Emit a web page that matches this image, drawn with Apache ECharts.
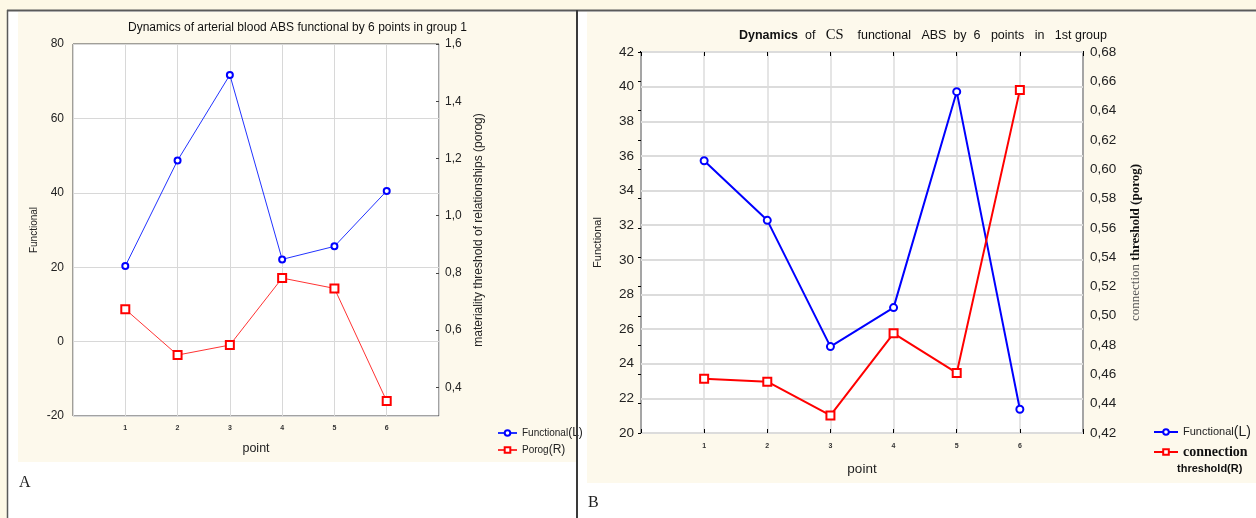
<!DOCTYPE html>
<html><head><meta charset="utf-8">
<script src="https://cdn.jsdelivr.net/npm/echarts@6/dist/echarts.min.js"></script>
<style>html,body{margin:0;padding:0;background:#fff}#c{width:1256px;height:518px}</style>
</head><body><div id="c"></div>
<script>
// ---- data ----
const points = [1, 2, 3, 4, 5, 6];
const leftFunctional = [20.3, 48.7, 71.7, 22.1, 25.6, 40.5];
const leftPorog = [0.673, 0.513, 0.548, 0.782, 0.746, 0.352];
const rightFunctional = [35.72, 32.28, 24.99, 27.24, 39.71, 21.37];
const rightThreshold = [0.457, 0.455, 0.432, 0.488, 0.461, 0.654];
const leftPorogTicks = [0.4, 0.6, 0.8, 1.0, 1.2, 1.4, 1.6];

const SANS = "'Liberation Sans', Arial, sans-serif";
const SERIF = "'Liberation Serif', 'Times New Roman', serif";
const pairs = (vals) => points.map((p, i) => [p, vals[i]]);
const comma = (d) => (v) => v.toFixed(d).replace('.', ',');
const catLabel = (v) => (points.indexOf(v) >= 0 ? String(v) : '');

const chart = echarts.init(document.getElementById('c'), null, {renderer: 'canvas'});
const option = {
  animation: false,
  backgroundColor: '#fdf8e6',
  textStyle: {fontFamily: SANS},
  graphic: [
    {type: 'rect', z: -100, shape: {x: 8, y: 11, width: 1248, height: 507}, style: {fill: '#ffffff'}},
    {type: 'rect', z: -99, shape: {x: 18, y: 12, width: 558, height: 450}, style: {fill: '#fdf9ec'}},
    {type: 'rect', z: -99, shape: {x: 587, y: 12, width: 669, height: 471}, style: {fill: '#fdf9ec'}},
    {type: 'line', z: -98, shape: {x1: 7, y1: 10.5, x2: 1256, y2: 10.5}, style: {stroke: '#5a5a5a', lineWidth: 2}},
    {type: 'line', z: -98, shape: {x1: 7.5, y1: 10, x2: 7.5, y2: 518}, style: {stroke: '#5a5a5a', lineWidth: 1.5}},
    {type: 'line', z: 50, shape: {x1: 577, y1: 10, x2: 577, y2: 518}, style: {stroke: '#3a3a3a', lineWidth: 2}},
    {type: 'text', left: 19, top: 475, style: {text: 'A', font: '16px ' + SERIF, fill: '#222'}},
    {type: 'text', left: 588, top: 495, style: {text: 'B', font: '16px ' + SERIF, fill: '#222'}},
    {type: 'text', left: 1177, top: 463, style: {text: 'threshold(R)', font: 'bold 11px ' + SANS, fill: '#111'}}
  ],
  title: [
    {text: 'Dynamics of arterial blood ABS functional by 6 points in group 1', left: 128, top: 22, padding: 0,
     textStyle: {fontSize: 12, fontWeight: 'normal', color: '#111', fontFamily: SANS}},
    {text: '{b|Dynamics}  of   {s|CS}    functional   ABS  by  6   points   in   1st group', left: 739, top: 28, padding: 0,
     textStyle: {fontSize: 12.5, fontWeight: 'normal', color: '#111', fontFamily: SANS,
       rich: {b: {fontWeight: 'bold', fontSize: 12.5, fontFamily: SANS, color: '#111'},
              s: {fontFamily: SERIF, fontSize: 14.5, color: '#111'}}}}
  ],
  legend: [
    {data: ['Functional(L)', 'Porog(R)'], orient: 'vertical', left: 497, top: 427, padding: 0,
     itemWidth: 19, itemHeight: 7, itemGap: 5,
     textStyle: {fontSize: 10, color: '#222', fontFamily: SANS, rich: {p: {fontSize: 12, color: '#222'}}},
     formatter: (n) => n.replace(/\((.)\)/, '{p|($1)}')},
    {data: ['Functional(L) ', 'connection threshold(R)'], orient: 'vertical', left: 1153, top: 425, padding: 0,
     itemWidth: 24, itemHeight: 7, itemGap: 6,
     textStyle: {fontSize: 11, color: '#222', fontFamily: SANS,
       rich: {p: {fontSize: 14, color: '#222'}, c: {fontSize: 14, fontWeight: 'bold', fontFamily: SERIF, color: '#111'}}},
     formatter: (n) => n.indexOf('connection') === 0 ? '{c|connection}' : n.trim().replace(/\((.)\)/, '{p|($1)}')}
  ],
  grid: [
    {left: 73, top: 44, width: 366, height: 372, show: true, backgroundColor: '#ffffff', borderColor: '#444', borderWidth: 1},
    {left: 641, top: 52, width: 442, height: 381, show: true, backgroundColor: '#ffffff', borderColor: '#000', borderWidth: 2}
  ],
  xAxis: [
    {gridIndex: 0, type: 'value', min: 0, max: 7, interval: 1, position: 'bottom',
     axisLine: {show: false}, axisTick: {show: false},
     axisLabel: {formatter: catLabel, fontSize: 7, fontWeight: 'bold', color: '#333', margin: 9},
     splitLine: {lineStyle: {color: '#d8d8d8', width: 1}},
     name: 'point', nameLocation: 'middle', nameGap: 26, nameTextStyle: {fontSize: 12.5, color: '#222'}},
    {gridIndex: 1, type: 'value', min: 0, max: 7, interval: 1, position: 'bottom',
     axisLine: {show: false}, axisTick: {show: true, inside: true, length: 4, lineStyle: {color: '#000'}},
     axisLabel: {formatter: catLabel, fontSize: 7, fontWeight: 'bold', color: '#333', margin: 10},
     splitLine: {lineStyle: {color: '#dcdcdc', width: 1.5}},
     name: 'point', nameLocation: 'middle', nameGap: 29, nameTextStyle: {fontSize: 13.5, color: '#222'}},
    {gridIndex: 1, type: 'value', min: 0, max: 7, interval: 1, position: 'top',
     axisLine: {show: false}, axisTick: {show: true, inside: true, length: 4, lineStyle: {color: '#000'}},
     axisLabel: {show: false}, splitLine: {show: false}}
  ],
  yAxis: [
    {gridIndex: 0, type: 'value', min: -20, max: 80, interval: 20, position: 'left',
     axisLine: {show: false}, axisTick: {show: false},
     axisLabel: {fontSize: 12, color: '#222', margin: 9},
     splitLine: {lineStyle: {color: '#d8d8d8', width: 1}},
     name: 'Functional', nameLocation: 'middle', nameGap: 34, nameTextStyle: {fontSize: 10, color: '#222'}},
    {gridIndex: 0, type: 'value', min: 0.3, max: 1.6, position: 'right',
     axisLine: {show: false},
     axisTick: {show: true, inside: true, length: 3, customValues: leftPorogTicks, lineStyle: {color: '#444'}},
     axisLabel: {fontSize: 12, color: '#222', margin: 6, formatter: comma(1), customValues: leftPorogTicks},
     splitLine: {show: false},
     name: 'materiality threshold of relationships (porog)', nameLocation: 'middle', nameGap: 34,
     nameTextStyle: {fontSize: 12, color: '#222'}},
    {gridIndex: 1, type: 'value', min: 20, max: 42, interval: 2, position: 'left',
     axisLine: {show: false}, axisTick: {show: false},
     axisLabel: {fontSize: 13.5, color: '#222', margin: 7},
     splitLine: {lineStyle: {color: '#dcdcdc', width: 2}},
     name: 'Functional', nameLocation: 'middle', nameGap: 38, nameTextStyle: {fontSize: 11, color: '#222'}},
    {gridIndex: 1, type: 'value', min: 0.42, max: 0.68, interval: 0.02, position: 'right',
     axisLine: {show: false},
     axisTick: {show: true, inside: true, length: 3, lineStyle: {color: '#000'}},
     axisLabel: {fontSize: 13.5, color: '#222', margin: 7, formatter: comma(2)},
     splitLine: {show: false},
     name: '{a|connection} {b|threshold (porog)}', nameLocation: 'middle', nameGap: 46,
     nameTextStyle: {rich: {a: {fontFamily: SERIF, fontSize: 13, color: '#555'},
                            b: {fontFamily: SERIF, fontSize: 13, fontWeight: 'bold', color: '#111'}}}}
  ],
  series: [
    {name: 'Functional(L)', type: 'line', xAxisIndex: 0, yAxisIndex: 0, data: pairs(leftFunctional),
     symbol: 'emptyCircle', symbolSize: 6, color: '#0000ff',
     lineStyle: {width: 1, color: '#2233ff'}, itemStyle: {borderWidth: 1.5}},
    {name: 'Porog(R)', type: 'line', xAxisIndex: 0, yAxisIndex: 1, data: pairs(leftPorog),
     symbol: 'emptyRect', symbolSize: 8, color: '#ff0000',
     lineStyle: {width: 1, color: '#ff3333'}, itemStyle: {borderWidth: 1.5}},
    {name: 'Functional(L) ', type: 'line', xAxisIndex: 1, yAxisIndex: 2, data: pairs(rightFunctional),
     symbol: 'emptyCircle', symbolSize: 7, color: '#0000ff',
     lineStyle: {width: 2, color: '#0000ff'}, itemStyle: {borderWidth: 1.5}},
    {name: 'connection threshold(R)', type: 'line', xAxisIndex: 1, yAxisIndex: 3, data: pairs(rightThreshold),
     symbol: 'emptyRect', symbolSize: 8, color: '#ff0000',
     lineStyle: {width: 2, color: '#ff0000'}, itemStyle: {borderWidth: 1.5}}
  ]
};
chart.setOption(option);
</script>
</body></html>
